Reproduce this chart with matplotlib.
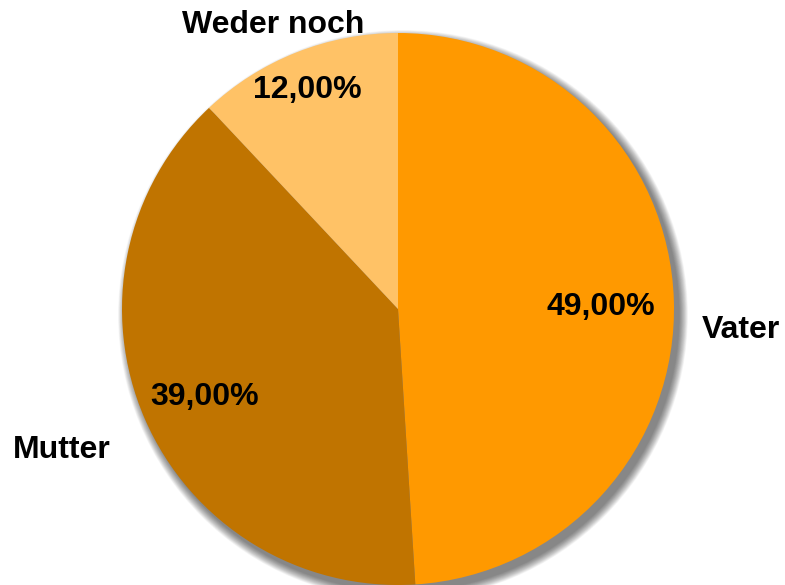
import numpy as np
import matplotlib.pyplot as plt
from matplotlib.patches import Circle

# data
labels = ['Vater', 'Mutter', 'Weder noch']
shares = [49.0, 39.0, 12.0]
colors = ['#FF9900', '#C07400', '#FFC266']

# label placement (pixel coords in a 785x585 canvas, y from top)
cat_xy = [(741, 330), (62, 450), (273, 25)]
pct_xy = [(601, 307), (205, 397), (307, 90)]

W, H = 785, 585
cx, cy, r = 398, H - 309, 276

fig = plt.figure(figsize=(7.85, 5.85), dpi=100)
ax = fig.add_axes([0, 0, 1, 1])

# soft drop shadow (right / bottom only)
n = 24
for i in range(n):
    grow = 9 * (1 - i / n)
    ax.add_patch(Circle((cx + 5, cy - 6), r + grow, color='#000000',
                        alpha=0.022, lw=0, zorder=1))

ax.pie(shares, colors=colors, startangle=90, counterclock=False,
       center=(cx, cy), radius=r, frame=True,
       wedgeprops=dict(edgecolor='none', linewidth=0, zorder=2))
ax.set_xlim(0, W)
ax.set_ylim(0, H)
ax.set_aspect('equal')
ax.axis('off')

font = dict(family=['Liberation Sans', 'DejaVu Sans'], fontsize=23,
            fontweight='bold', color='black', ha='center', va='center', zorder=5)
for lab, (x, y) in zip(labels, cat_xy):
    ax.text(x, H - y, lab, **font)
for val, (x, y) in zip(shares, pct_xy):
    ax.text(x, H - y, f'{val:.2f}%'.replace('.', ','), **font)

fig.savefig('out.png', dpi=100)
